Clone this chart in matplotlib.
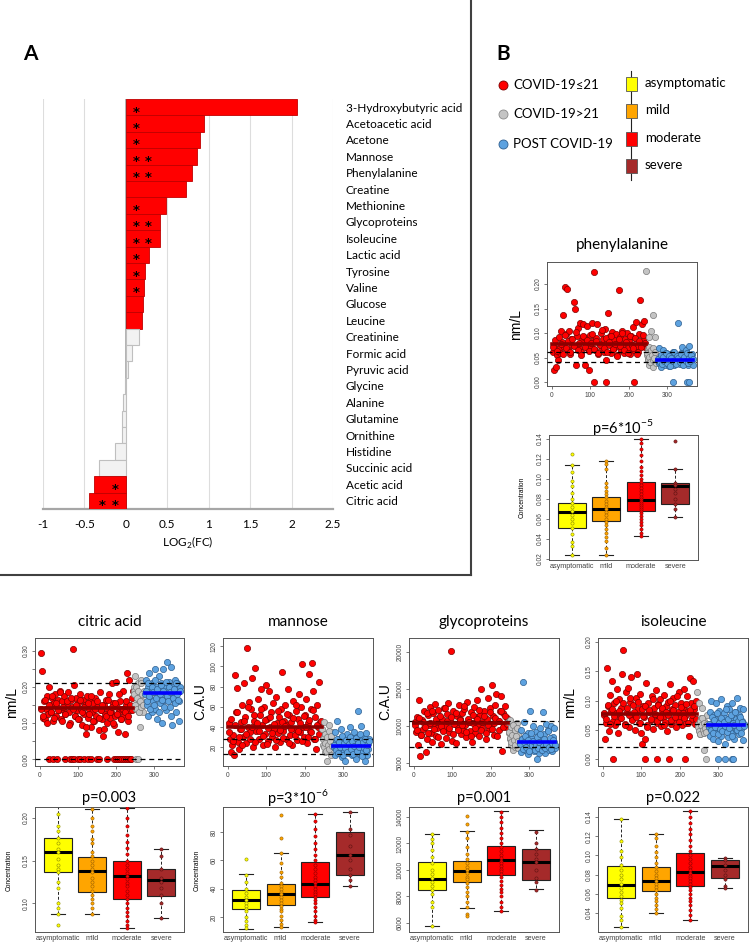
import numpy as np
import matplotlib
matplotlib.use('Agg')
import matplotlib.pyplot as plt

W, H = 750, 951

# ---- panel A data ----
metabolites = ['3-Hydroxybutyric acid', 'Acetoacetic acid', 'Acetone', 'Mannose',
               'Phenylalanine', 'Creatine', 'Methionine', 'Glycoproteins', 'Isoleucine',
               'Lactic acid', 'Tyrosine', 'Valine', 'Glucose', 'Leucine', 'Creatinine',
               'Formic acid', 'Pyruvic acid', 'Glycine', 'Alanine', 'Glutamine',
               'Ornithine', 'Histidine', 'Succinic acid', 'Acetic acid', 'Citric acid']
log2fc = [2.07, 0.94, 0.895, 0.855, 0.80, 0.73, 0.49, 0.415, 0.415, 0.28, 0.234, 0.222,
          0.206, 0.20, 0.157, 0.069, 0.02, -0.012, -0.03, -0.044, -0.052, -0.137, -0.32,
          -0.38, -0.44]
fdr_sig = [1] * 14 + [0] * 9 + [1, 1]
stars = [1, 1, 1, 2, 2, 0, 1, 2, 2, 1, 1, 1, 0, 0, 0, 0, 0, 0, 0, 0, 0, 0, 0, 1, 2]

# ---- panel B: scatter data (sample order); *_b = second batch of samples ----
phe_red = [0.062, 0.025, 0.070, 0.030, 0.055, 0.045, 0.068, 0.060, 0.104, 0.082, 0.137, 0.072,
           0.195, 0.098, 0.190, 0.065, 0.105, 0.058, 0.088, 0.075, 0.163, 0.150, 0.035, 0.095,
           0.110, 0.070, 0.120, 0.062, 0.085, 0.118, 0.092, 0.035, 0.078, 0.115, 0.068, 0.025,
           0.096, 0.072, 0.120, 0.084, 0.225, 0.065, 0.090, 0.118, 0.058, 0.078, 0.100, 0.070,
           0.088, 0.062, 0.108, 0.045, 0.082, 0.140, 0.075, 0.095, 0.060, 0.102, 0.068, 0.085,
           0.072, 0.098, 0.055, 0.080, 0.187, 0.092, 0.065, 0.105, 0.078, 0.060, 0.088, 0.100,
           0.070, 0.083, 0.058, 0.095, 0.076, 0.112, 0.066, 0.090, 0.122, 0.074, 0.062, 0.098,
           0.168, 0.080, 0.118, 0.086, 0.125, 0.072]
phe_red_b = [0.072, 0.085, 0.064, 0.091, 0.078, 0.058, 0.097, 0.069, 0.083, 0.061, 0.088, 0.074,
             0.102, 0.066, 0.080, 0.056, 0.093, 0.071, 0.086, 0.063, 0.079, 0.099, 0.068, 0.084,
             0.059, 0.076, 0.107, 0.070, 0.089, 0.062, 0.081, 0.095, 0.067, 0.077, 0.054, 0.087,
             0.073, 0.101, 0.065, 0.082, 0.060, 0.094, 0.075, 0.069, 0.090, 0.057, 0.084, 0.071,
             0.097, 0.079]
phe_gray = [0.226, 0.055, 0.045, 0.068, 0.035, 0.092, 0.050, 0.105, 0.040, 0.062, 0.030, 0.137,
            0.048, 0.058, 0.092, 0.042, 0.055]
phe_gray_b = [0.060, 0.048, 0.072, 0.052, 0.040, 0.065, 0.055, 0.045, 0.070, 0.050, 0.062, 0.038]
phe_blue = [0.045, 0.070, 0.038, 0.052, 0.030, 0.048, 0.065, 0.042, 0.055, 0.035, 0.050, 0.060,
            0.040, 0.046, 0.032, 0.058, 0.044, 0.052, 0.038, 0.062, 0.048, 0.035, 0.055, 0.042,
            0.050, 0.040, 0.121, 0.046, 0.036, 0.060, 0.044, 0.072, 0.050, 0.038, 0.055, 0.043,
            0.066, 0.048, 0.034, 0.052, 0.073, 0.045, 0.040, 0.058, 0.047, 0.035]
phe_blue_b = [0.048, 0.040, 0.056, 0.036, 0.051, 0.044, 0.059, 0.039, 0.047, 0.054, 0.033, 0.050,
              0.042, 0.061, 0.045, 0.037, 0.053, 0.049, 0.041, 0.057, 0.046, 0.034, 0.052, 0.043,
              0.060, 0.038, 0.050, 0.044, 0.055, 0.047]
phe_zero_x = {'red': [110, 142, 213], 'gray': [], 'blue': [315, 352, 357]}

cit_red = [0.295, 0.245, 0.115, 0.16, 0.11, 0.14, 0.175, 0.125, 0.20, 0.15, 0.13, 0.17, 0.105,
           0.155, 0.18, 0.12, 0.145, 0.165, 0.135, 0.19, 0.11, 0.16, 0.14, 0.175, 0.125, 0.15,
           0.185, 0.13, 0.10, 0.165, 0.145, 0.305, 0.205, 0.12, 0.17, 0.135, 0.155, 0.11, 0.18,
           0.14, 0.095, 0.165, 0.125, 0.15, 0.07, 0.175, 0.115, 0.14, 0.16, 0.09, 0.13, 0.155,
           0.105, 0.17, 0.12, 0.145, 0.08, 0.185, 0.135, 0.11, 0.065, 0.15, 0.125, 0.165, 0.10,
           0.14, 0.18, 0.115, 0.13, 0.21, 0.155, 0.095, 0.12, 0.215, 0.145, 0.075, 0.13, 0.16,
           0.11, 0.14, 0.19, 0.12, 0.07, 0.15, 0.24, 0.105, 0.22, 0.135, 0.17, 0.19]
cit_red_b = [0.14, 0.12, 0.165, 0.10, 0.15, 0.13, 0.175, 0.115, 0.155, 0.135, 0.185, 0.105,
             0.145, 0.125, 0.16, 0.095, 0.17, 0.14, 0.12, 0.15, 0.11, 0.165, 0.13, 0.145, 0.09,
             0.155, 0.125, 0.175, 0.105, 0.14, 0.16, 0.115, 0.135, 0.15, 0.085, 0.12, 0.165, 0.13,
             0.145, 0.10, 0.155, 0.125, 0.18, 0.11, 0.14, 0.13, 0.16, 0.12, 0.15, 0.135]
cit_gray = [0.20, 0.19, 0.23, 0.14, 0.17, 0.15, 0.21, 0.13, 0.18, 0.09, 0.145, 0.22, 0.16, 0.13, 0.19]
cit_gray_b = [0.18, 0.15, 0.20, 0.14, 0.17, 0.19, 0.13, 0.16, 0.21, 0.145, 0.18, 0.15]
cit_blue = [0.18, 0.22, 0.15, 0.20, 0.12, 0.24, 0.17, 0.19, 0.13, 0.21, 0.16, 0.185, 0.25, 0.14,
            0.20, 0.11, 0.175, 0.23, 0.19, 0.155, 0.21, 0.10, 0.18, 0.25, 0.165, 0.20, 0.135, 0.27,
            0.19, 0.17, 0.215, 0.145, 0.255, 0.18, 0.095, 0.20, 0.16, 0.22, 0.175, 0.13, 0.21,
            0.185, 0.105, 0.16, 0.20]
cit_blue_b = [0.19, 0.16, 0.21, 0.175, 0.14, 0.20, 0.185, 0.15, 0.22, 0.17, 0.195, 0.13, 0.18,
              0.205, 0.165, 0.19, 0.145, 0.215, 0.175, 0.16, 0.2, 0.185, 0.12, 0.17, 0.195, 0.155,
              0.21, 0.18, 0.165, 0.19]
cit_zero_x = {'red': [25, 35, 45, 65, 80, 85, 90, 100, 105, 115, 125, 135, 150, 155, 175, 195,
                      200, 205, 210, 215, 220, 225, 230, 235, 240],
              'gray': [252, 258], 'blue': []}

man_red = [44, 28, 15, 22, 32, 12, 91, 55, 79, 25, 18, 38, 45, 62, 30, 84, 50, 24, 118, 40, 65,
           35, 58, 88, 20, 46, 98, 36, 68, 28, 52, 78, 42, 22, 60, 33, 82, 48, 26, 76, 40, 55, 30,
           64, 38, 20, 70, 44, 34, 50, 25, 58, 94, 36, 46, 62, 28, 42, 78, 52, 32, 45, 22, 66, 38,
           56, 27, 48, 73, 35, 60, 102, 40, 30, 52, 68, 24, 44, 92, 36, 58, 103, 76, 28, 50, 18,
           62, 40, 85, 45, 34]
man_red_b = [35, 48, 26, 42, 55, 30, 38, 22, 46, 33, 60, 28, 40, 52, 25, 44, 36, 58, 31, 47, 23,
             39, 50, 34, 43, 27, 56, 37, 45, 29, 41, 53, 24, 38, 49, 32, 62, 36, 44, 26, 51, 40,
             30, 47, 35, 57, 28, 42, 33, 46]
man_gray = [38, 22, 45, 30, 15, 26, 6, 33, 20, 42, 18, 28, 12, 35, 24]
man_gray_b = [28, 20, 33, 24, 16, 30, 22, 36, 18, 26, 31, 21]
man_blue = [20, 35, 12, 25, 46, 18, 28, 15, 22, 38, 10, 30, 24, 16, 6, 27, 20, 33, 14, 22, 26,
            40, 18, 12, 29, 21, 35, 17, 24, 8, 30, 19, 56, 25, 13, 41, 22, 27, 16, 31, 6, 20, 34,
            12, 23, 18, 28]
man_blue_b = [22, 17, 28, 14, 25, 20, 31, 12, 24, 19, 27, 15, 23, 30, 18, 26, 13, 21, 29, 16, 24,
              20, 33, 11, 25, 19, 28, 17, 22, 26]
man_zero_x = {'red': [], 'gray': [], 'blue': []}

gly_red = [10500, 9200, 11200, 7400, 13500, 6000, 8800, 10800, 9600, 12000, 6500, 8200, 11500,
           10200, 12600, 9000, 7800, 11800, 10400, 13000, 8600, 9800, 12200, 10600, 7600, 11000,
           9400, 12500, 10000, 8400, 11600, 13100, 9200, 10700, 20200, 8000, 12000, 10300, 7700,
           11300, 9700, 12800, 10900, 8900, 11700, 9500, 12300, 10100, 8500, 13200, 10600, 9300,
           11900, 7900, 10400, 12600, 9100, 11200, 13500, 10000, 8700, 11500, 15000, 9800, 12100,
           10500, 8300, 11000, 13800, 9600, 12400, 10200, 15500, 11400, 8800, 12900, 14300, 10700,
           9500, 12000, 14000, 6600, 11800, 10300, 12700, 9900, 11100]
gly_red_b = [10200, 9400, 11100, 8800, 10600, 9900, 11700, 9100, 10400, 12100, 9600, 10900, 8500,
             11400, 10000, 9300, 12400, 10700, 9700, 11200, 8900, 10300, 11800, 9500, 10800,
             10100, 12700, 9200, 11000, 10500, 8700, 11500, 9800, 10900, 12200, 9400, 10600,
             11300, 9000, 10200, 11900, 9600, 10400, 11100, 8600, 10700, 12000, 9900, 11400, 10300]
gly_gray = [10500, 9000, 8200, 10800, 7500, 9500, 6800, 8600, 10000, 7200, 9800, 8000, 10400,
            7000, 8800]
gly_gray_b = [9200, 8400, 9900, 7800, 8800, 10200, 8100, 9500, 7400, 8600, 9700, 8000]
gly_blue = [7800, 9500, 6500, 8200, 16000, 7000, 10500, 6800, 8800, 7300, 6200, 9000, 7600,
            12000, 6900, 8400, 7100, 10000, 6600, 8000, 7400, 9200, 5500, 7700, 8600, 6400, 9800,
            7200, 8300, 6700, 11900, 7500, 8900, 6300, 10300, 7900, 7000, 9400, 6800, 8100, 7300,
            10000, 6600, 8500, 7800, 9700, 7100]
gly_blue_b = [7600, 8300, 6900, 7900, 8700, 7200, 8100, 6600, 7700, 9100, 7400, 8000, 6800, 7500,
              8500, 7100, 7800, 8900, 6700, 7300, 8200, 7000, 7600, 9300, 7200, 8400, 6900, 7700,
              8100, 7400]
gly_zero_x = {'red': [], 'gray': [], 'blue': []}

iso_red = [0.075, 0.035, 0.062, 0.155, 0.090, 0.048, 0.110, 0.082, 0.133, 0.065, 0.095, 0.058,
           0.078, 0.120, 0.045, 0.102, 0.070, 0.088, 0.145, 0.187, 0.060, 0.115, 0.080, 0.122,
           0.055, 0.098, 0.140, 0.068, 0.092, 0.076, 0.050, 0.105, 0.145, 0.085, 0.062, 0.112,
           0.045, 0.025, 0.090, 0.072, 0.035, 0.130, 0.058, 0.096, 0.080, 0.066, 0.108, 0.052,
           0.088, 0.075, 0.118, 0.062, 0.094, 0.070, 0.102, 0.056, 0.084, 0.072, 0.110, 0.064,
           0.090, 0.048, 0.098, 0.078, 0.128, 0.060, 0.086, 0.104, 0.066, 0.092, 0.054, 0.080,
           0.114, 0.070, 0.096, 0.058, 0.088, 0.120, 0.074, 0.062, 0.108, 0.082, 0.040, 0.138,
           0.095, 0.068, 0.133, 0.085, 0.060, 0.100]
iso_red_b = [0.078, 0.068, 0.092, 0.060, 0.085, 0.073, 0.100, 0.064, 0.082, 0.070, 0.095, 0.058,
             0.088, 0.076, 0.105, 0.066, 0.080, 0.072, 0.097, 0.062, 0.086, 0.074, 0.090, 0.055,
             0.083, 0.069, 0.102, 0.077, 0.065, 0.093, 0.071, 0.087, 0.059, 0.081, 0.075, 0.099,
             0.067, 0.084, 0.072, 0.108, 0.063, 0.089, 0.079, 0.070, 0.094, 0.061, 0.083, 0.076,
             0.091, 0.068]
iso_gray = [0.115, 0.060, 0.050, 0.095, 0.042, 0.070, 0.055, 0.088, 0.045, 0.065, 0.015, 0.058,
            0.048, 0.075, 0.052]
iso_gray_b = [0.055, 0.048, 0.065, 0.042, 0.058, 0.070, 0.050, 0.045, 0.062, 0.053, 0.047, 0.060]
iso_blue = [0.055, 0.080, 0.040, 0.100, 0.062, 0.035, 0.075, 0.050, 0.068, 0.095, 0.045, 0.060,
            0.030, 0.082, 0.058, 0.040, 0.102, 0.065, 0.052, 0.078, 0.025, 0.070, 0.048, 0.090,
            0.060, 0.038, 0.085, 0.055, 0.072, 0.044, 0.095, 0.062, 0.035, 0.080, 0.050, 0.068,
            0.105, 0.058, 0.042, 0.075, 0.088, 0.052, 0.065, 0.032, 0.085, 0.060]
iso_blue_b = [0.060, 0.050, 0.072, 0.045, 0.066, 0.055, 0.078, 0.042, 0.062, 0.052, 0.070, 0.048,
              0.064, 0.057, 0.085, 0.046, 0.068, 0.053, 0.075, 0.040, 0.061, 0.058, 0.080, 0.049,
              0.065, 0.054, 0.071, 0.044, 0.063, 0.056]
iso_zero_x = {'red': [25, 110, 140, 172, 215], 'gray': [268], 'blue': [300, 318, 335, 340]}

# group means and reference (dashed) lines
means = {'phe': (0.0776, 0.045), 'cit': (0.1417, 0.184), 'man': (39.9, 21.7),
         'gly': (10360, 7880), 'iso': (0.0777, 0.0578)}
refs = {'phe': (0.041, 0.061), 'cit': (0.0, 0.211), 'man': (13, 28),
        'gly': (7160, 10675), 'iso': (0.0204, 0.0595)}

# ---- boxplot data by severity ----
severity = ['asymptomatic', 'mild', 'moderate', 'severe']
phe_box = dict(q1=[0.051, 0.058, 0.0677, 0.0753], med=[0.0667, 0.0697, 0.0793, 0.0933],
               q3=[0.076, 0.082, 0.0967, 0.096], lo=[0.0237, 0.0237, 0.0427, 0.0617],
               hi=[0.1137, 0.1177, 0.14, 0.1097])
cit_box = dict(q1=[0.137, 0.1136, 0.1055, 0.109], med=[0.160, 0.1374, 0.132, 0.1277],
               q3=[0.177, 0.1545, 0.150, 0.140], lo=[0.088, 0.088, 0.071, 0.083],
               hi=[0.219, 0.21, 0.212, 0.163])
man_box = dict(q1=[25.9, 28.2, 34.1, 49.4], med=[31.8, 36.5, 43.1, 63.5],
               q3=[38.8, 43.5, 58.8, 80], lo=[11.8, 12.9, 16.5, 41.9], hi=[50.6, 65.4, 92.9, 94.1])
gly_box = dict(q1=[8500, 9100, 9640, 9220], med=[9290, 9890, 10730, 10630],
               q3=[10580, 10700, 11820, 11570], lo=[5800, 7160, 6870, 8530],
               hi=[12740, 12940, 14420, 12990])
iso_box = dict(q1=[0.0555, 0.0624, 0.0683, 0.0769], med=[0.069, 0.0734, 0.0824, 0.0893],
               q3=[0.0893, 0.0883, 0.102, 0.095], lo=[0.0252, 0.040, 0.033, 0.0659],
               hi=[0.138, 0.122, 0.146, 0.097])

phe_strip = [[0.125, 0.114, 0.107, 0.098, 0.093, 0.086, 0.08, 0.076, 0.072, 0.068, 0.064, 0.06,
              0.056, 0.051, 0.045, 0.037, 0.033, 0.024],
             [0.118, 0.115, 0.11, 0.096, 0.092, 0.088, 0.085, 0.082, 0.078, 0.075, 0.072, 0.07,
              0.067, 0.064, 0.06, 0.057, 0.054, 0.05, 0.046, 0.042, 0.038, 0.031, 0.024],
             [0.14, 0.136, 0.13, 0.124, 0.118, 0.112, 0.108, 0.104, 0.1, 0.097, 0.094, 0.091,
              0.088, 0.085, 0.082, 0.08, 0.078, 0.076, 0.074, 0.072, 0.07, 0.068, 0.066, 0.063,
              0.06, 0.057, 0.054, 0.05, 0.046, 0.043],
             [0.138, 0.11, 0.096, 0.094, 0.09, 0.086, 0.08, 0.075, 0.07, 0.062]]
cit_strip = [[0.219, 0.205, 0.19, 0.185, 0.177, 0.17, 0.163, 0.16, 0.152, 0.145, 0.14, 0.137,
              0.125, 0.118, 0.1, 0.095, 0.088, 0.075],
             [0.21, 0.2, 0.19, 0.185, 0.175, 0.17, 0.16, 0.155, 0.15, 0.145, 0.14, 0.137, 0.13,
              0.125, 0.12, 0.115, 0.11, 0.105, 0.1, 0.095, 0.088],
             [0.212, 0.2, 0.19, 0.18, 0.172, 0.165, 0.158, 0.15, 0.145, 0.14, 0.136, 0.132,
              0.128, 0.124, 0.12, 0.115, 0.11, 0.105, 0.1, 0.095, 0.09, 0.085, 0.08, 0.075, 0.071],
             [0.163, 0.155, 0.14, 0.13, 0.125, 0.118, 0.11, 0.1, 0.083]]
man_strip = [[61, 50, 45, 40, 37, 34, 32, 30, 28, 26, 24, 20, 17, 14, 12],
             [92, 76, 65, 58, 52, 48, 44, 42, 40, 38, 36, 34, 32, 30, 28, 26, 24, 21, 18, 15, 13],
             [93, 88, 82, 77, 72, 68, 64, 60, 57, 54, 51, 48, 46, 44, 42, 40, 38, 36, 34, 32, 30,
              27, 24, 21, 18, 16.5],
             [94, 82, 78, 70, 64, 60, 54, 50, 46, 42]]
gly_strip = [[12700, 12300, 12000, 11500, 11000, 10500, 10000, 9700, 9400, 9100, 8800, 8500,
              8200, 7600, 7200, 5800],
             [14100, 13500, 12900, 12400, 11700, 11200, 10800, 10500, 10200, 10000, 9800, 9500,
              9300, 9000, 8700, 8300, 8000, 7600, 7200, 6700, 6500],
             [14400, 14000, 13600, 13200, 12800, 12400, 12000, 11700, 11400, 11100, 10900, 10700,
              10500, 10300, 10100, 9900, 9700, 9500, 9200, 8900, 8600, 8300, 8000, 7600, 7200,
              6900],
             [12900, 12000, 11600, 11200, 10800, 10600, 10000, 9400, 9100, 8500]]
iso_strip = [[0.138, 0.115, 0.105, 0.098, 0.09, 0.085, 0.08, 0.075, 0.07, 0.066, 0.062, 0.058,
              0.054, 0.05, 0.045, 0.037, 0.033, 0.025],
             [0.122, 0.118, 0.11, 0.104, 0.098, 0.092, 0.088, 0.084, 0.08, 0.076, 0.073, 0.07,
              0.067, 0.064, 0.06, 0.056, 0.052, 0.048, 0.044, 0.04],
             [0.146, 0.14, 0.134, 0.128, 0.122, 0.116, 0.11, 0.105, 0.1, 0.096, 0.092, 0.088,
              0.085, 0.082, 0.079, 0.076, 0.073, 0.07, 0.067, 0.064, 0.06, 0.056, 0.052, 0.048,
              0.043, 0.038, 0.033],
             [0.097, 0.095, 0.09, 0.085, 0.08, 0.075, 0.068, 0.066]]

RED, GRAY, BLUE = '#ff0000', '#c4c4c4', '#5da2e0'
EDGES = {'red': '#7a0000', 'gray': '#7a7a7a', 'blue': '#2f5f8f'}
BOX_COLORS = ['#ffff00', '#ffa500', '#ff0000', '#a52a2a']
STRIP_EDGE = ['#8a8a00', '#9a6000', '#8b0000', '#5a1010']
CALIBRI = ['Lato', 'DejaVu Sans']
ARIAL = ['Liberation Sans', 'DejaVu Sans']


def rect(x0, y0, x1, y1):
    # pixel box -> figure fraction
    return [x0 / W, 1 - y1 / H, (x1 - x0) / W, (y1 - y0) / H]


def style_r_axes(ax, ylim, yticks, ylabels):
    ax.set_ylim(*ylim)
    ax.set_yticks(yticks)
    ax.set_yticklabels(ylabels, rotation=90, va='center', family=ARIAL)
    for s in ax.spines.values():
        s.set_color('#555555')
        s.set_linewidth(0.7)
    ax.tick_params(labelsize=4.8, length=2.5, width=0.5, pad=1.5, colors='#444444')


def scatter_panel(ax, groups, zero_x, key, ylim, yticks, ylabels):
    # groups: (values, values_b, colour, name, x range)
    kw = dict(s=20, linewidths=0.5, zorder=2)
    for vals, vals_b, col, name, (xa, xb) in groups:
        ax.scatter(np.linspace(xa, xb, len(vals)), vals, c=col, edgecolors=EDGES[name], **kw)
        ax.scatter(np.linspace(xa + 1.5, xb - 1.5, len(vals_b)), vals_b, c=col,
                   edgecolors=EDGES[name], **kw)
        zx = zero_x[name]
        ax.scatter(zx, np.zeros(len(zx)), c=col, edgecolors=EDGES[name], **kw)
    for r in refs[key]:
        ax.axhline(r, color='k', ls=(0, (4, 3)), lw=0.9, zorder=3)
    ax.plot([0, 245], [means[key][0]] * 2, color='#8b0000', lw=2.6, zorder=4)
    ax.plot([275, 368], [means[key][1]] * 2, color='#0000ff', lw=2.6, zorder=4)
    ax.set_xlim(-13, 378)
    ax.set_xticks([0, 100, 200, 300])
    ax.set_xticklabels(['0', '100', '200', '300'], family=ARIAL)
    style_r_axes(ax, ylim, yticks, ylabels)


def box_panel(ax, st, strips, ylim, yticks, ylabels):
    stats = [dict(q1=st['q1'][i], med=st['med'][i], q3=st['q3'][i],
                  whislo=st['lo'][i], whishi=st['hi'][i], fliers=[]) for i in range(4)]
    bp = ax.bxp(stats, positions=[1, 2, 3, 4], widths=0.8, patch_artist=True,
                showfliers=False, capwidths=0.4,
                boxprops=dict(edgecolor='#222222', linewidth=0.8),
                whiskerprops=dict(color='#222222', linewidth=0.7, linestyle=(0, (3, 2))),
                capprops=dict(color='#222222', linewidth=0.8),
                medianprops=dict(color='k', linewidth=2.2))
    for patch, c in zip(bp['boxes'], BOX_COLORS):
        patch.set_facecolor(c)
    for i, vals in enumerate(strips):
        ax.plot([i + 1] * len(vals), vals, 'o', ms=2.3, mfc=BOX_COLORS[i],
                mec=STRIP_EDGE[i], mew=0.4, zorder=5)
    ax.set_xlim(0.34, 4.66)
    ax.set_xticks([1, 2, 3, 4])
    ax.set_xticklabels(severity, family=ARIAL)
    style_r_axes(ax, ylim, yticks, ylabels)
    ax.tick_params(axis='x', length=0, pad=2.5, labelsize=5.2)


fig = plt.figure(figsize=(W / 100, H / 100), dpi=100)
fig.patch.set_facecolor('white')

ov = fig.add_axes([0, 0, 1, 1])
ov.set_xlim(0, W)
ov.set_ylim(H, 0)
ov.axis('off')

# frame around panel A
ov.plot([471, 471], [0, 575], color='#404040', lw=1.5)
ov.plot([0, 471], [575, 575], color='#404040', lw=1.5)
ov.text(30, 54, 'A', fontsize=15, fontweight='bold', family=CALIBRI, ha='center', va='center')
ov.text(503, 54, 'B', fontsize=15, fontweight='bold', family=CALIBRI, ha='center', va='center')

# ---- panel A ----
axA = fig.add_axes(rect(43, 99, 333, 509))
n = len(metabolites)
ypos = np.arange(n)
for y, v, s in zip(ypos, log2fc, fdr_sig):
    if s:
        axA.barh(y, v, height=1.0, color=RED, edgecolor='#c00000', linewidth=0.6, zorder=3)
    else:
        axA.barh(y, v, height=1.0, color='#f2f2f2', edgecolor='#bfbfbf', linewidth=0.8, zorder=3)
for y, v, k in zip(ypos, log2fc, stars):
    if k == 0:
        continue
    xs = [0.12, 0.27][:k] if v > 0 else [-0.13, -0.28][:k]
    for xx in xs:
        axA.text(xx, y + 0.3, '*', fontsize=9.5, fontweight='bold', ha='center', va='center',
                 zorder=4, family='DejaVu Sans')
axA.set_xlim(-1, 2.5)
axA.set_ylim(n - 0.5, -0.5)
for gx in [-1, -0.5, 0.5, 1, 1.5, 2, 2.5]:
    axA.axvline(gx, color='#dddddd', lw=0.8, zorder=0)
axA.axvline(0, color='#a6a6a6', lw=1.2, zorder=2)
axA.set_xticks([-1, -0.5, 0, 0.5, 1, 1.5, 2, 2.5])
axA.set_xticklabels(['-1', '-0.5', '0', '0.5', '1', '1.5', '2', '2.5'], family=CALIBRI)
axA.yaxis.tick_right()
axA.set_yticks(ypos)
axA.set_yticklabels(metabolites, family=CALIBRI)
axA.tick_params(axis='y', length=0, pad=9, labelsize=8.5)
axA.tick_params(axis='x', length=0, pad=7, labelsize=8.5)
for side in ['top', 'left', 'right']:
    axA.spines[side].set_visible(False)
axA.spines['bottom'].set_color('#a6a6a6')
axA.spines['bottom'].set_linewidth(1.6)
axA.set_xlabel('LOG$_\\mathregular{2}$(FC)', fontsize=8.5, family=CALIBRI, labelpad=4)

ov.add_patch(plt.Rectangle((201, 477), 33, 15, fc=RED, ec='#c00000', lw=0.6))
ov.text(241, 485, 'FDR<0.05', fontsize=10.5, family=CALIBRI, va='center')

# ---- panel B legend ----
leg_y = [85, 114, 144]
leg_txt = ['COVID-19≤21', 'COVID-19>21', 'POST COVID-19']
leg_fc = [RED, GRAY, BLUE]
leg_ec = ['#7a0000', '#8a8a8a', '#2f5f8f']
for y, t, fc, ec in zip(leg_y, leg_txt, leg_fc, leg_ec):
    ov.plot(503, y, 'o', ms=6.5, mfc=fc, mec=ec, mew=0.6)
    ov.text(513, y, t, fontsize=9.5, family=CALIBRI, va='center')
ov.plot([631, 631], [71, 180], color='#222222', lw=0.8)
sev_y = [84, 111, 139, 166]
for y, t, c in zip(sev_y, severity, BOX_COLORS):
    ov.add_patch(plt.Rectangle((625.5, y - 7), 11, 14, fc=c, ec='#555555', lw=0.6, zorder=3))
    ov.text(645, y - 1, t, fontsize=9.5, family=CALIBRI, va='center')

# ---- phenylalanine ----
ax = fig.add_axes(rect(547, 262, 697, 386))
scatter_panel(ax, [(phe_red, phe_red_b, RED, 'red', (2, 243)),
                   (phe_gray, phe_gray_b, GRAY, 'gray', (246, 272)),
                   (phe_blue, phe_blue_b, BLUE, 'blue', (276, 368))],
              phe_zero_x, 'phe', (-0.008, 0.245),
              [0, 0.05, 0.10, 0.15, 0.20], ['0.00', '0.05', '0.10', '0.15', '0.20'])
ov.text(622, 245, 'phenylalanine', fontsize=11, family=CALIBRI, ha='center', va='center')
ov.text(516, 324, 'nm/L', fontsize=10, family=ARIAL, rotation=90, ha='center', va='center')
ax = fig.add_axes(rect(549, 435, 698, 560))
box_panel(ax, phe_box, phe_strip, (0.019, 0.144), [0.02, 0.04, 0.06, 0.08, 0.10, 0.12, 0.14],
          ['0.02', '0.04', '0.06', '0.08', '0.10', '0.12', '0.14'])
ov.text(623, 428, 'p=6*10$^{\\mathregular{-5}}$', fontsize=10.5, family=CALIBRI,
        ha='center', va='center')
ov.text(522, 497, 'Concentration', fontsize=4.8, family=ARIAL, rotation=90,
        ha='center', va='center')

# ---- bottom row ----
bottom = [
    ('citric acid', 35, 184, (cit_red, cit_red_b), (cit_gray, cit_gray_b), (cit_blue, cit_blue_b),
     cit_zero_x, 'cit', 'nm/L', 12,
     (-0.019, 0.336), [0, 0.05, 0.10, 0.15, 0.20, 0.25, 0.30],
     ['0.00', '', '0.10', '', '0.20', '', '0.30'],
     cit_box, cit_strip, (0.0667, 0.2126), [0.10, 0.15, 0.20], ['0.10', '0.15', '0.20'],
     'p=0.003', True),
    ('mannose', 223, 373, (man_red, man_red_b), (man_gray, man_gray_b), (man_blue, man_blue_b),
     man_zero_x, 'man', 'C.A.U', 200,
     (1.5, 128), [20, 40, 60, 80, 100, 120], ['20', '40', '60', '80', '100', '120'],
     man_box, man_strip, (9.4, 97.7), [20, 40, 60, 80], ['20', '40', '60', '80'],
     'p=3*10$^{\\mathregular{-6}}$', True),
    ('glycoproteins', 409, 559, (gly_red, gly_red_b), (gly_gray, gly_gray_b),
     (gly_blue, gly_blue_b), gly_zero_x, 'gly', 'C.A.U', 385,
     (4600, 21900), [5000, 10000, 15000, 20000], ['5000', '10000', '15000', '20000'],
     gly_box, gly_strip, (5320, 14750), [6000, 8000, 10000, 12000, 14000],
     ['6000', '8000', '10000', '12000', '14000'], 'p=0.001', False),
    ('isoleucine', 598, 748, (iso_red, iso_red_b), (iso_gray, iso_gray_b), (iso_blue, iso_blue_b),
     iso_zero_x, 'iso', 'nm/L', 570,
     (-0.012, 0.207), [0, 0.05, 0.10, 0.15, 0.20], ['0.00', '0.05', '0.10', '0.15', '0.20'],
     iso_box, iso_strip, (0.0202, 0.1504), [0.04, 0.06, 0.08, 0.10, 0.12, 0.14],
     ['0.04', '0.06', '0.08', '0.10', '0.12', '0.14'], 'p=0.022', False),
]
for (title, x0, x1, r, g, b, zx, key, unit, ux, ylim, yt, yl,
     bst, bstrip, bylim, byt, byl, ptxt, conc) in bottom:
    ax = fig.add_axes(rect(x0, 638, x1, 766))
    scatter_panel(ax, [(r[0], r[1], RED, 'red', (2, 243)),
                       (g[0], g[1], GRAY, 'gray', (246, 272)),
                       (b[0], b[1], BLUE, 'blue', (276, 368))],
                  zx, key, ylim, yt, yl)
    ov.text((x0 + x1) / 2, 622, title, fontsize=11, family=CALIBRI, ha='center', va='center')
    ov.text(ux, 702, unit, fontsize=10, family=ARIAL, rotation=90, ha='center', va='center')
    ax = fig.add_axes(rect(x0, 807, x1, 932))
    box_panel(ax, bst, bstrip, bylim, byt, byl)
    ov.text((x0 + x1) / 2, 798, ptxt, fontsize=10.5, family=CALIBRI, ha='center', va='center')
    if conc:
        ov.text(x0 - 26, 870, 'Concentration', fontsize=4.8, family=ARIAL, rotation=90,
                ha='center', va='center')

fig.savefig('out.png', dpi=100, facecolor='white')
